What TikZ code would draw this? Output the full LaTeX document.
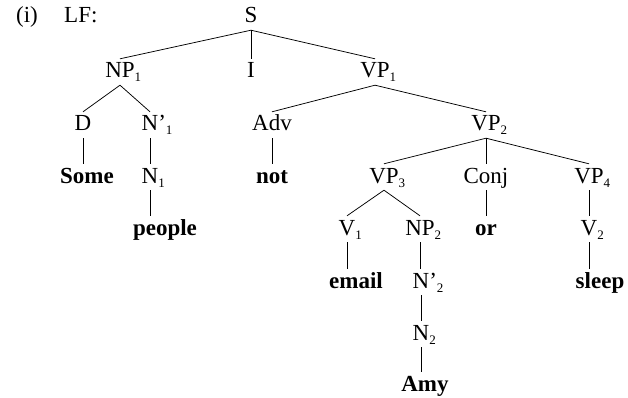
\documentclass[tikz,border=0pt]{standalone}
\usepackage{fontspec}
\setmainfont{Liberation Serif}
\newcommand{\sbs}[1]{\rlap{\raisebox{-4pt}{\fontsize{13}{13}\selectfont #1}}}
\newcommand{\prs}[1]{\rlap{’\raisebox{-4pt}{\fontsize{13}{13}\selectfont #1}}}
\tikzset{
  lab/.style={anchor=base, font=\fontsize{23}{23}\selectfont, text height=15pt, text depth=3pt, inner ysep=4pt, inner xsep=0pt},
  leaf/.style={lab, font=\fontsize{23}{23}\selectfont\bfseries},
  br/.style={line width=0.75pt, black}
}
\begin{document}
\begin{tikzpicture}[x=1pt,y=-1pt]
\useasboundingbox (0,0) rectangle (628,398);
% row baselines: 23, 78, 131, 183, 235, 288, 340, 391
\node[lab] (ex) at (27,23) {(i)};
\node[lab, anchor=base west] (lf) at (64,23) {LF:};
\node[lab] (S) at (251,23) {S};
\node[lab] (NP1) at (120,78) {NP\sbs{1}};
\node[lab] (I) at (251,78) {I};
\node[lab] (VP1) at (375,78) {VP\sbs{1}};
\node[lab] (D) at (83,131) {D};
\node[lab] (Nb1) at (150,131) {N\prs{1}};
\node[lab] (Adv) at (272,131) {Adv};
\node[lab] (VP2) at (486,131) {VP\sbs{2}};
\node[leaf] (Some) at (87,183) {Some};
\node[lab] (N1) at (150,183) {N\sbs{1}};
\node[leaf] (not) at (272,183) {not};
\node[lab] (VP3) at (384,183) {VP\sbs{3}};
\node[lab] (Conj) at (486,183) {Conj};
\node[lab] (VP4) at (589,183) {VP\sbs{4}};
\node[leaf] (people) at (165,235) {people};
\node[lab] (V1) at (347,235) {V\sbs{1}};
\node[lab] (NP2) at (420,235) {NP\sbs{2}};
\node[leaf] (or) at (486,235) {or};
\node[lab] (V2) at (589,235) {V\sbs{2}};
\node[leaf] (email) at (356,288) {email};
\node[lab] (Nb2) at (421,288) {N\prs{2}};
\node[leaf] (sleep) at (600,288) {sleep};
\node[lab] (N2) at (421,340) {N\sbs{2}};
\node[leaf] (Amy) at (425,391) {Amy};

\draw[br] (S.south) -- (NP1.north);
\draw[br] (S.south) -- (I.north);
\draw[br] (S.south) -- (VP1.north);
\draw[br] (NP1.south) -- (D.north);
\draw[br] (NP1.south) -- (Nb1.north);
\draw[br] (VP1.south) -- (Adv.north);
\draw[br] (VP1.south) -- (VP2.north);
\draw[br] (D.south) -- (D.south |- Some.north);
\draw[br] (Nb1.south) -- (N1.north);
\draw[br] (N1.south) -- (N1.south |- people.north);
\draw[br] (Adv.south) -- (not.north);
\draw[br] (VP2.south) -- (VP3.north);
\draw[br] (VP2.south) -- (Conj.north);
\draw[br] (VP2.south) -- (VP4.north);
\draw[br] (VP3.south) -- (V1.north);
\draw[br] (VP3.south) -- (NP2.north);
\draw[br] (Conj.south) -- (or.north);
\draw[br] (VP4.south) -- (V2.north);
\draw[br] (V1.south) -- (V1.south |- email.north);
\draw[br] (NP2.south) -- (NP2.south |- Nb2.north);
\draw[br] (V2.south) -- (V2.south |- sleep.north);
\draw[br] (Nb2.south) -- (N2.north);
\draw[br] (N2.south) -- (N2.south |- Amy.north);
\end{tikzpicture}
\end{document}
